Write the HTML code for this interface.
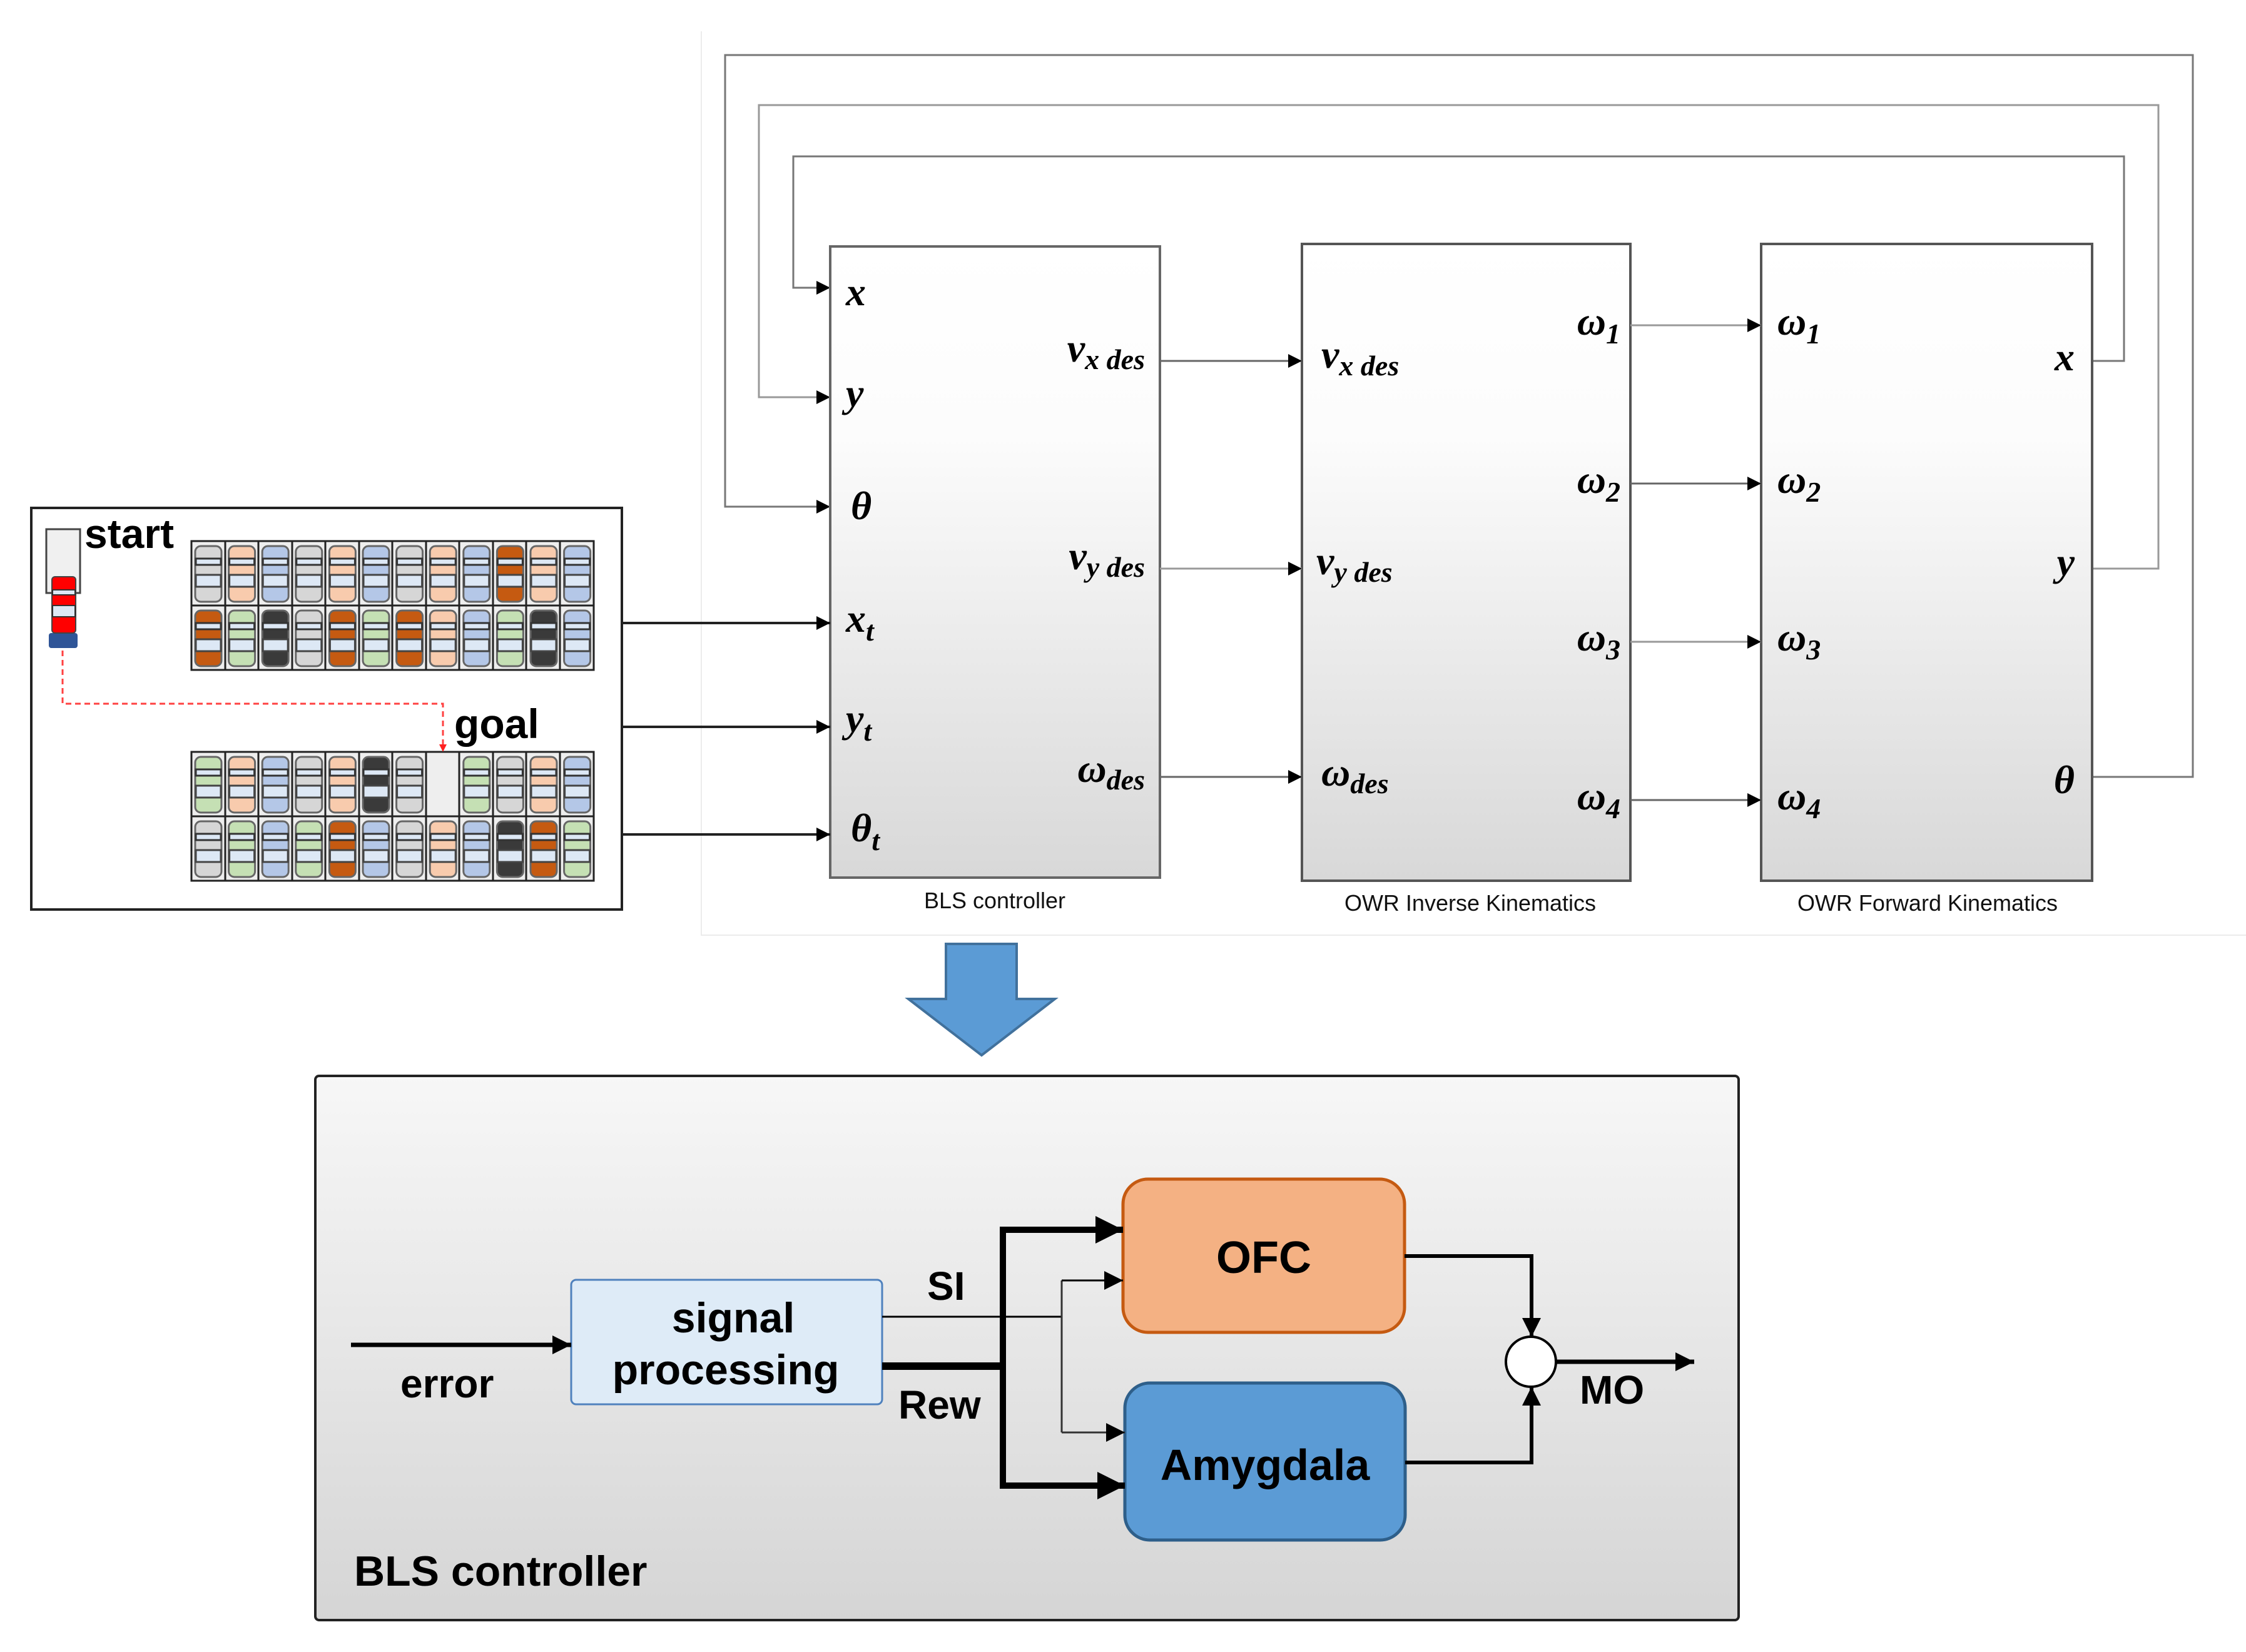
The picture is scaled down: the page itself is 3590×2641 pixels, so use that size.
<!DOCTYPE html>
<html><head><meta charset="utf-8"><style>
html,body{margin:0;padding:0;background:#fff;}
svg{display:block;}
.m{font-family:"Liberation Serif",serif;font-style:italic;font-weight:bold;font-size:64px;fill:#000;}
.s{font-size:46px;}
.cap{font-family:"Liberation Sans",sans-serif;font-size:36px;fill:#111;text-anchor:middle;}
.b{font-family:"Liberation Sans","DejaVu Sans",sans-serif;font-weight:bold;fill:#000;}
</style></head><body>
<svg width="3590" height="2641" viewBox="0 0 3590 2641" xmlns="http://www.w3.org/2000/svg">
<defs>
<linearGradient id="blk" x1="0" y1="0" x2="0" y2="1">
<stop offset="0" stop-color="#ffffff"/><stop offset="0.3" stop-color="#fcfcfc"/><stop offset="1" stop-color="#d8d8d8"/></linearGradient>
<linearGradient id="pan" x1="0" y1="0" x2="0" y2="1">
<stop offset="0" stop-color="#f7f7f7"/><stop offset="1" stop-color="#d5d5d5"/></linearGradient>
<marker id="ah" viewBox="0 0 10 10" refX="10" refY="5" markerWidth="22" markerHeight="22" markerUnits="userSpaceOnUse" orient="auto"><path d="M0,0 L10,5 L0,10 z" fill="#000"/></marker>
<marker id="ah2" viewBox="0 0 10 10" refX="10" refY="5" markerWidth="30" markerHeight="30" markerUnits="userSpaceOnUse" orient="auto"><path d="M0,0 L10,5 L0,10 z" fill="#000"/></marker>
<marker id="ah3" viewBox="0 0 10 10" refX="10" refY="5" markerWidth="44" markerHeight="44" markerUnits="userSpaceOnUse" orient="auto"><path d="M0,0 L10,5 L0,10 z" fill="#000"/></marker>
<g id="car">
<rect x="6" y="8" width="42" height="89" rx="9" fill="currentColor" stroke="#666" stroke-width="3"/>
<rect x="7" y="28" width="40" height="10" fill="#dde8f5" stroke="#333" stroke-width="3"/>
<rect x="7" y="54" width="40" height="19" fill="#dde8f5" stroke="#444" stroke-width="3"/>
</g>
</defs>

<path d="M1121,50 V1495 H3590" fill="none" stroke="#ececec" stroke-width="2"/>

<g fill="none" stroke="#777" stroke-width="3">
<path d="M3344,1242 H3505 V88 H1159 V810 H1327" marker-end="url(#ah)"/>
<path d="M3344,909 H3450 V168 H1213 V635 H1327" marker-end="url(#ah)" stroke="#999"/>
<path d="M3344,577 H3395 V250 H1268 V460 H1327" marker-end="url(#ah)"/>
</g>

<rect x="1327" y="394" width="527" height="1009" fill="url(#blk)" stroke="#666" stroke-width="4"/>
<rect x="2081" y="390" width="525" height="1018" fill="url(#blk)" stroke="#555" stroke-width="4"/>
<rect x="2815" y="390" width="529" height="1018" fill="url(#blk)" stroke="#555" stroke-width="4"/>
<text class="cap" x="1590" y="1452">BLS controller</text>
<text class="cap" x="2350" y="1456">OWR Inverse Kinematics</text>
<text class="cap" x="3081" y="1456">OWR Forward Kinematics</text>

<g fill="none" stroke="#666" stroke-width="3">
<path d="M1854,577 H2081" marker-end="url(#ah)"/>
<path d="M1854,909 H2081" marker-end="url(#ah)" stroke="#999"/>
<path d="M1854,1242 H2081" marker-end="url(#ah)"/>
<path d="M2606,520 H2815" marker-end="url(#ah)" stroke="#999"/>
<path d="M2606,773 H2815" marker-end="url(#ah)"/>
<path d="M2606,1026 H2815" marker-end="url(#ah)" stroke="#999"/>
<path d="M2606,1279 H2815" marker-end="url(#ah)"/>
</g>
<g fill="none" stroke="#222" stroke-width="4">
<path d="M994,996 H1327" marker-end="url(#ah)"/>
<path d="M994,1162 H1327" marker-end="url(#ah)"/>
<path d="M994,1334 H1327" marker-end="url(#ah)"/>
</g>

<text class="m" x="1352" y="488">x</text>
<text class="m" x="1352" y="650">y</text>
<text class="m" x="1360" y="830">θ</text>
<text class="m" x="1352" y="1010">x<tspan class="s" dy="14">t</tspan></text>
<text class="m" x="1352" y="1170">y<tspan class="s" dy="14">t</tspan></text>
<text class="m" x="1360" y="1345">θ<tspan class="s" dy="14">t</tspan></text>
<text class="m" x="1830" y="578" text-anchor="end">v<tspan class="s" dy="12">x des</tspan></text>
<text class="m" x="1830" y="910" text-anchor="end">v<tspan class="s" dy="12">y des</tspan></text>
<text class="m" x="1830" y="1250" text-anchor="end">ω<tspan class="s" dy="12">des</tspan></text>
<text class="m" x="2112" y="588">v<tspan class="s" dy="12">x des</tspan></text>
<text class="m" x="2104" y="918">v<tspan class="s" dy="12">y des</tspan></text>
<text class="m" x="2112" y="1256">ω<tspan class="s" dy="12">des</tspan></text>
<text class="m" x="2590" y="535" text-anchor="end">ω<tspan class="s" dy="14">1</tspan></text>
<text class="m" x="2590" y="788" text-anchor="end">ω<tspan class="s" dy="14">2</tspan></text>
<text class="m" x="2590" y="1040" text-anchor="end">ω<tspan class="s" dy="14">3</tspan></text>
<text class="m" x="2590" y="1294" text-anchor="end">ω<tspan class="s" dy="14">4</tspan></text>
<text class="m" x="2841" y="535">ω<tspan class="s" dy="14">1</tspan></text>
<text class="m" x="2841" y="788">ω<tspan class="s" dy="14">2</tspan></text>
<text class="m" x="2841" y="1040">ω<tspan class="s" dy="14">3</tspan></text>
<text class="m" x="2841" y="1294">ω<tspan class="s" dy="14">4</tspan></text>
<text class="m" x="3316" y="592" text-anchor="end">x</text>
<text class="m" x="3316" y="920" text-anchor="end">y</text>
<text class="m" x="3316" y="1268" text-anchor="end">θ</text>

<rect x="50" y="812" width="944" height="642" fill="#fff" stroke="#222" stroke-width="4"/>
<g fill="#eee" stroke="#222" stroke-width="3">
<rect x="306" y="865" width="643" height="206"/>
<line x1="306" y1="968" x2="949" y2="968"/>
<rect x="306" y="1202" width="643" height="206"/>
<line x1="306" y1="1305" x2="949" y2="1305"/>
</g>
<g stroke="#222" stroke-width="3">
<path d="M360,865V1071M413,865V1071M467,865V1071M520,865V1071M574,865V1071M627,865V1071M681,865V1071M734,865V1071M788,865V1071M841,865V1071M895,865V1071"/>
<path d="M360,1202V1408M413,1202V1408M467,1202V1408M520,1202V1408M574,1202V1408M627,1202V1408M681,1202V1408M734,1202V1408M788,1202V1408M841,1202V1408M895,1202V1408"/>
</g>
<g transform="translate(306,865)">
<use href="#car" x="0" style="color:#d6d6d6"/><use href="#car" x="53.6" style="color:#f8cbad"/><use href="#car" x="107.2" style="color:#b4c7e7"/><use href="#car" x="160.8" style="color:#d6d6d6"/><use href="#car" x="214.4" style="color:#f8cbad"/><use href="#car" x="268" style="color:#b4c7e7"/><use href="#car" x="321.6" style="color:#d6d6d6"/><use href="#car" x="375.2" style="color:#f8cbad"/><use href="#car" x="428.8" style="color:#b4c7e7"/><use href="#car" x="482.4" style="color:#c55a11"/><use href="#car" x="536" style="color:#f8cbad"/><use href="#car" x="589.6" style="color:#b4c7e7"/>
</g>
<g transform="translate(306,968)">
<use href="#car" x="0" style="color:#c55a11"/><use href="#car" x="53.6" style="color:#c5e0b4"/><use href="#car" x="107.2" style="color:#3a3a3a"/><use href="#car" x="160.8" style="color:#d6d6d6"/><use href="#car" x="214.4" style="color:#c55a11"/><use href="#car" x="268" style="color:#c5e0b4"/><use href="#car" x="321.6" style="color:#c55a11"/><use href="#car" x="375.2" style="color:#f8cbad"/><use href="#car" x="428.8" style="color:#b4c7e7"/><use href="#car" x="482.4" style="color:#c5e0b4"/><use href="#car" x="536" style="color:#3a3a3a"/><use href="#car" x="589.6" style="color:#b4c7e7"/>
</g>
<g transform="translate(306,1202)">
<use href="#car" x="0" style="color:#c5e0b4"/><use href="#car" x="53.6" style="color:#f8cbad"/><use href="#car" x="107.2" style="color:#b4c7e7"/><use href="#car" x="160.8" style="color:#d6d6d6"/><use href="#car" x="214.4" style="color:#f8cbad"/><use href="#car" x="268" style="color:#3a3a3a"/><use href="#car" x="321.6" style="color:#d6d6d6"/><use href="#car" x="428.8" style="color:#c5e0b4"/><use href="#car" x="482.4" style="color:#d6d6d6"/><use href="#car" x="536" style="color:#f8cbad"/><use href="#car" x="589.6" style="color:#b4c7e7"/>
</g>
<g transform="translate(306,1305)">
<use href="#car" x="0" style="color:#d6d6d6"/><use href="#car" x="53.6" style="color:#c5e0b4"/><use href="#car" x="107.2" style="color:#b4c7e7"/><use href="#car" x="160.8" style="color:#c5e0b4"/><use href="#car" x="214.4" style="color:#c55a11"/><use href="#car" x="268" style="color:#b4c7e7"/><use href="#car" x="321.6" style="color:#d6d6d6"/><use href="#car" x="375.2" style="color:#f8cbad"/><use href="#car" x="428.8" style="color:#b4c7e7"/><use href="#car" x="482.4" style="color:#3a3a3a"/><use href="#car" x="536" style="color:#c55a11"/><use href="#car" x="589.6" style="color:#c5e0b4"/>
</g>
<rect x="74" y="846" width="54" height="102" fill="#f0f0f0" stroke="#444" stroke-width="3"/>
<rect x="78" y="1012" width="46" height="24" rx="4" fill="#2f5597"/>
<rect x="83" y="922" width="38" height="90" rx="5" fill="#ff0000" stroke="#444" stroke-width="2"/>
<rect x="84" y="943" width="36" height="8" fill="#dde8f5" stroke="#333" stroke-width="2"/>
<rect x="84" y="968" width="36" height="18" fill="#dde8f5" stroke="#333" stroke-width="2"/>
<text class="b" x="135" y="876" font-size="66">start</text>
<text class="b" x="726" y="1180" font-size="66">goal</text>
<path d="M100,1040 V1125 H708 V1192" fill="none" stroke="#ff4040" stroke-width="3" stroke-dasharray="9,6"/>
<path d="M702,1190 L714,1190 L708,1202 z" fill="#ff2020"/>

<path d="M1512,1509 H1625 V1597 H1686 L1569,1687 L1452,1597 H1512 z" fill="#5b9bd5" stroke="#41719c" stroke-width="4"/>

<rect x="504" y="1720" width="2275" height="870" rx="6" fill="url(#pan)" stroke="#222" stroke-width="4"/>
<text class="b" x="566" y="2535" font-size="68">BLS controller</text>

<rect x="913" y="2046" width="497" height="199" rx="8" fill="#deebf7" stroke="#4f81bd" stroke-width="3"/>
<text class="b" x="1172" y="2130" font-size="68" text-anchor="middle">signal</text>
<text class="b" x="1160" y="2213" font-size="68" text-anchor="middle">processing</text>

<rect x="1795" y="1885" width="450" height="245" rx="40" fill="#f4b183" stroke="#c55a11" stroke-width="5"/>
<text class="b" x="2020" y="2035" font-size="72" text-anchor="middle">OFC</text>
<rect x="1798" y="2211" width="448" height="251" rx="40" fill="#5b9bd5" stroke="#2e5f8a" stroke-width="5"/>
<text class="b" x="2022" y="2366" font-size="70" text-anchor="middle">Amygdala</text>

<circle cx="2447" cy="2177" r="40" fill="#fff" stroke="#000" stroke-width="4"/>

<path d="M561,2150 H913" stroke="#000" stroke-width="7" fill="none" marker-end="url(#ah2)"/>
<text class="b" x="640" y="2234" font-size="64">error</text>

<path d="M1410,2105 H1697" stroke="#000" stroke-width="3" fill="none"/>
<path d="M1697,2047 V2290" stroke="#333" stroke-width="3" fill="none"/>
<path d="M1697,2047 H1795" stroke="#000" stroke-width="3" fill="none" marker-end="url(#ah2)"/>
<path d="M1697,2290 H1798" stroke="#333" stroke-width="3" fill="none" marker-end="url(#ah2)"/>
<text class="b" x="1482" y="2078" font-size="64">SI</text>

<path d="M1410,2184 H1603" stroke="#000" stroke-width="12" fill="none"/>
<path d="M1603,1963 V2378" stroke="#000" stroke-width="10" fill="none"/>
<path d="M1598,1966 H1795" stroke="#000" stroke-width="10" fill="none" marker-end="url(#ah3)"/>
<path d="M1598,2375 H1798" stroke="#000" stroke-width="10" fill="none" marker-end="url(#ah3)"/>
<text class="b" x="1436" y="2268" font-size="64">Rew</text>

<path d="M2245,2008 H2448 V2137" stroke="#000" stroke-width="6" fill="none" marker-end="url(#ah2)"/>
<path d="M2246,2338 H2448 V2217" stroke="#000" stroke-width="6" fill="none" marker-end="url(#ah2)"/>
<path d="M2487,2177 H2708" stroke="#000" stroke-width="7" fill="none" marker-end="url(#ah2)"/>
<text class="b" x="2525" y="2244" font-size="64">MO</text>
</svg>
</body></html>
